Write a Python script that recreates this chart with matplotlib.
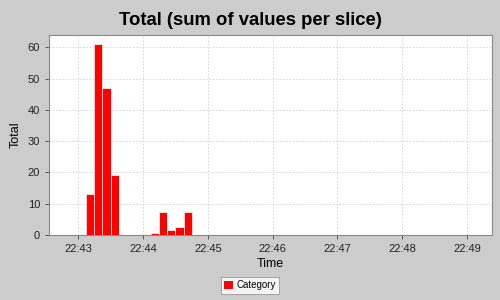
import matplotlib
matplotlib.use("Agg")
import matplotlib.pyplot as plt
import matplotlib.dates as mdates
from datetime import datetime, timedelta

plt.rcParams["font.family"] = ["Liberation Sans", "DejaVu Sans"]

# slice start times (7.5 s slices) and summed values
slice_starts = ["22:43:07.5", "22:43:15", "22:43:22.5", "22:43:30",
                "22:44:07.5", "22:44:15", "22:44:22.5", "22:44:30", "22:44:37.5"]
totals = [13, 61, 47, 19.2, 0.6, 7.4, 1.6, 2.6, 7.4]
series_name = "Category"
tick_labels = ["22:43", "22:44", "22:45", "22:46", "22:47", "22:48", "22:49"]

day = datetime(2020, 1, 1)

def to_dt(s):
    h, m, sec = s.split(":")
    return day + timedelta(hours=int(h), minutes=int(m), seconds=float(sec))

x = [mdates.date2num(to_dt(s)) for s in slice_starts]
slice_w = 7.5 / 86400.0

bg = "#cccccc"
fig = plt.figure(figsize=(5, 3), dpi=100, facecolor=bg)
ax = fig.add_axes([0.098, 0.2167, 0.886, 0.6667])
ax.set_facecolor("white")

ax.bar(x, totals, width=slice_w, align="edge", color="#ff0000",
       edgecolor="#ffdddd", linewidth=0.7, label=series_name, zorder=3)

ax.set_xlim(mdates.date2num(to_dt("22:42:33")), mdates.date2num(to_dt("22:49:23")))
ax.set_ylim(0, 64)
ticks = [mdates.date2num(to_dt(t + ":00")) for t in tick_labels]
ax.set_xticks(ticks)
ax.set_xticklabels(tick_labels)
ax.set_yticks(range(0, 61, 10))

ax.grid(True, color="#d0d0d0", linestyle=(0, (2, 2)), linewidth=0.6, zorder=0)
for s in ax.spines.values():
    s.set_color("#888888")
    s.set_linewidth(0.8)
ax.tick_params(labelsize=8, colors="#444444", length=3, width=0.6, labelcolor="#222222")

ax.set_xlabel("Time", fontsize=9, labelpad=3)
ax.set_ylabel("Total", fontsize=9, labelpad=4)
fig.suptitle("Total (sum of values per slice)", fontsize=13.3, fontweight="bold", y=0.96)

leg = fig.legend(loc="lower center", bbox_to_anchor=(0.5, 0.005), fontsize=7,
                 frameon=True, fancybox=False, handlelength=0.9, handleheight=0.9,
                 handletextpad=0.4, borderpad=0.35, edgecolor="#888888")
leg.get_frame().set_linewidth(0.6)
for h in leg.legend_handles:
    h.set_edgecolor("none")

fig.savefig("out.png", dpi=100, facecolor=bg)
